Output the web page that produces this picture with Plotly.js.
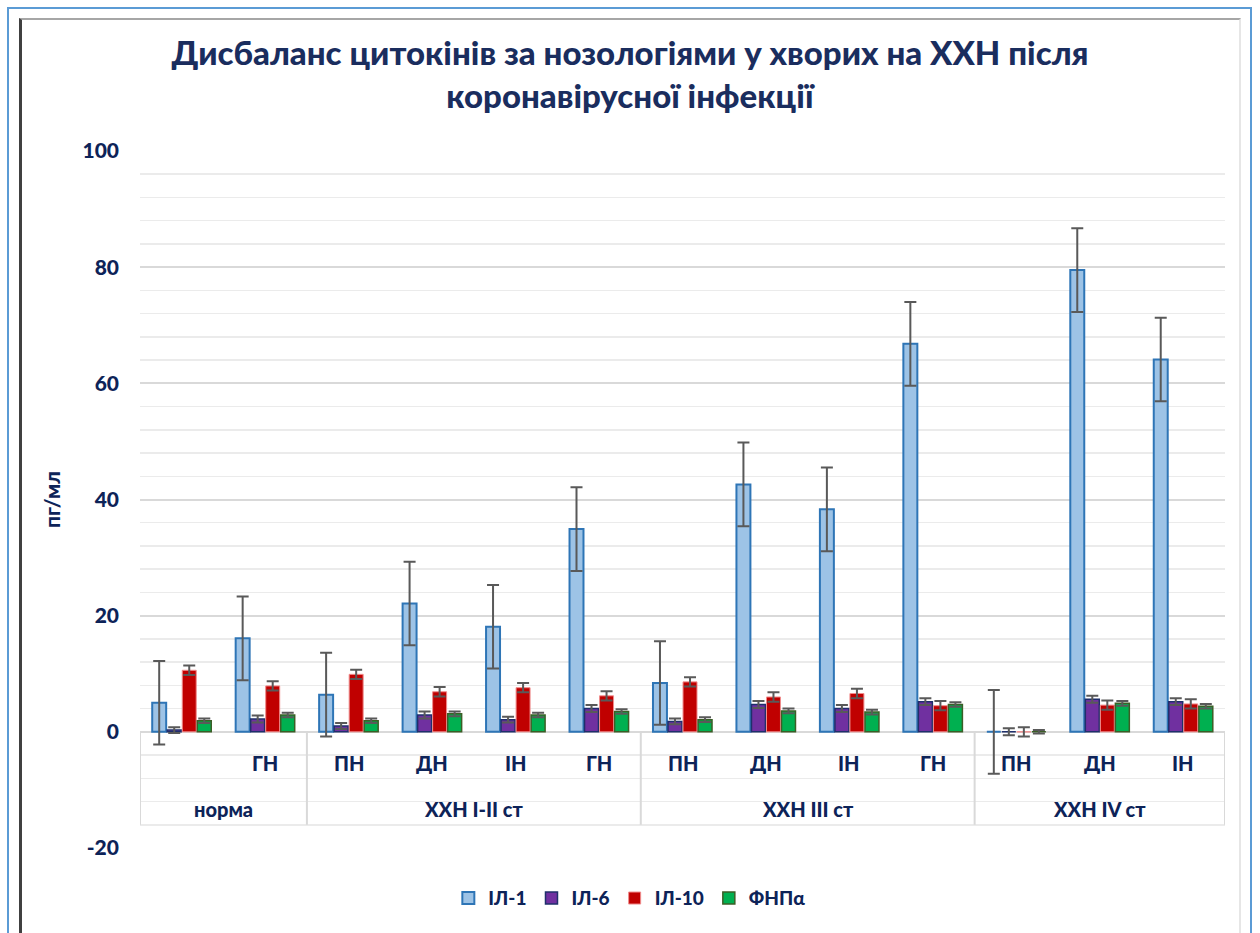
<!DOCTYPE html>
<html>
<head>
<meta charset="utf-8">
<script src="https://cdn.plot.ly/plotly-3.0.1.min.js"></script>
<style>
html,body{margin:0;padding:0;background:#fff;}
#wrap{position:relative;width:1260px;height:933px;overflow:hidden;}
#frameOuter{position:absolute;left:7px;top:7px;width:1245px;height:940px;border:2px solid #5b9bd5;box-sizing:border-box;}
#frameInner{position:absolute;left:19px;top:18px;width:1222px;height:930px;border-left:3px solid #404040;border-top:2px solid #a6a6a6;border-right:2px solid #e6e6e6;box-sizing:border-box;}
#chart{position:absolute;left:0;top:0;width:1260px;height:933px;}
</style>
</head>
<body>
<div id="wrap">
<div id="frameOuter"></div>
<div id="frameInner"></div>
<div id="chart"></div>
</div>
<script>
// ---- data ----
const groupOfCat = ['норма','норма','ХХН І-ІІ ст','ХХН І-ІІ ст','ХХН І-ІІ ст','ХХН І-ІІ ст','ХХН ІІІ ст','ХХН ІІІ ст','ХХН ІІІ ст','ХХН ІІІ ст','ХХН IV ст','ХХН IV ст','ХХН IV ст'];
const subLabels = ['', 'ГН', 'ПН', 'ДН', 'ІН', 'ГН', 'ПН', 'ДН', 'ІН', 'ГН', 'ПН', 'ДН', 'ІН'];
const groupNames = ['норма', 'ХХН І-ІІ ст', 'ХХН ІІІ ст', 'ХХН IV ст'];
const seriesNames = ['ІЛ-1', 'ІЛ-6', 'ІЛ-10', 'ФНПα'];
const yTickVals = [-20, 0, 20, 40, 60, 80, 100];
const yTickText = ['-20', '0', '20', '40', '60', '80', '100'];

const il1    = [5.0, 16.1, 6.4, 22.1, 18.1, 34.9, 8.4, 42.6, 38.3, 66.8, 0, 79.5, 64.1];
const il1Err = [7.2, 7.2, 7.2, 7.2, 7.2, 7.2, 7.2, 7.2, 7.2, 7.2, 7.2, 7.2, 7.2];
const il6    = [0.3, 2.2, 1.0, 2.9, 2.1, 4.0, 1.8, 4.7, 4.0, 5.2, 0, 5.6, 5.2];
const il6Err = [0.5, 0.6, 0.5, 0.6, 0.5, 0.6, 0.5, 0.6, 0.6, 0.6, 0.6, 0.6, 0.6];
const il10    = [10.6, 7.9, 9.9, 6.9, 7.6, 6.2, 8.6, 6.0, 6.6, 4.5, 0, 4.6, 4.8];
const il10Err = [0.8, 0.8, 0.8, 0.8, 0.8, 0.8, 0.8, 0.8, 0.8, 0.8, 0.8, 0.8, 0.8];
const tnf    = [1.9, 2.9, 1.9, 3.1, 2.9, 3.5, 2.1, 3.6, 3.4, 4.7, 0, 4.9, 4.4];
const tnfErr = [0.4, 0.4, 0.4, 0.4, 0.4, 0.4, 0.4, 0.4, 0.4, 0.4, 0.3, 0.4, 0.4];

// ---- build ----
const cats = groupOfCat.map((g, i) => g + ': ' + subLabels[i]);
const navy = '#0d2358';
const fontFam = 'Lato, "Open Sans", sans-serif';

const fills = ['#9dc3e6', '#7030a0', '#c00000', '#00b050'];
const borders = ['#2e75b6', '#1f2f6b', '#f08c8c', '#3b5e26'];
const bw = [2, 1.5, 1, 1.5];
const vals = [il1, il6, il10, tnf];
const errs = [il1Err, il6Err, il10Err, tnfErr];

const traces = vals.map((v, k) => ({
  type: 'bar',
  name: seriesNames[k],
  x: cats,
  y: v,
  marker: {color: fills[k], line: {color: borders[k], width: bw[k]}},
  error_y: {type: 'data', array: errs[k], visible: true, color: '#595959', thickness: 2, width: 6}
}));

const labFont = {family: fontFam, size: 20, color: navy, weight: 900};
const annotations = [];
subLabels.forEach((s, i) => {
  if (s) annotations.push({x: i, y: -5.3, xref: 'x', yref: 'y', text: s, showarrow: false, font: labFont});
});
groupNames.forEach(g => {
  const idx = groupOfCat.map((c, i) => c === g ? i : -1).filter(i => i >= 0);
  const c = (idx[0] + idx[idx.length - 1]) / 2;
  annotations.push({x: c, y: -13.3, xref: 'x', yref: 'y', text: g, showarrow: false, font: labFont});
});

const shapes = [];
const bounds = [-0.5];
groupNames.forEach(g => {
  const idx = groupOfCat.map((c, i) => c === g ? i : -1).filter(i => i >= 0);
  bounds.push(idx[idx.length - 1] + 0.5);
});
bounds.forEach(b => shapes.push({type: 'line', xref: 'x', yref: 'y', x0: b, x1: b, y0: 0, y1: -16,
  line: {color: '#d9d9d9', width: 2}, layer: 'above'}));

const layout = {
  width: 1260, height: 933,
  margin: {l: 140, r: 35, t: 151, b: 85},
  paper_bgcolor: 'rgba(0,0,0,0)',
  plot_bgcolor: 'rgba(0,0,0,0)',
  title: {
    text: 'Дисбаланс цитокінів за нозологіями у хворих на ХХН після<br>коронавірусної інфекції',
    font: {family: fontFam, size: 33, color: '#1a2d5e', weight: 900},
    x: 0.5, xanchor: 'center', xref: 'container', yref: 'container', y: 0.93, yanchor: 'middle'
  },
  barmode: 'group',
  bargap: 0.28,
  bargroupgap: 0.07,
  showlegend: true,
  legend: {orientation: 'h', x: 0.451, xanchor: 'center', y: -0.072, yanchor: 'middle',
    font: {family: fontFam, size: 19, color: navy, weight: 900}, itemwidth: 30, traceorder: 'normal'},
  xaxis: {type: 'category', showticklabels: false, showgrid: false, zeroline: false, showline: false,
    range: [-0.5, 12.5], fixedrange: true},
  yaxis: {
    range: [-20, 100], tickmode: 'array', tickvals: yTickVals, ticktext: yTickText,
    gridcolor: '#d9d9d9', gridwidth: 2,
    minor: {dtick: 4, tick0: 0, showgrid: true, gridcolor: '#ebebeb', gridwidth: 1.5},
    zeroline: true, zerolinecolor: '#d9d9d9', zerolinewidth: 2,
    showline: false,
    ticklabelstandoff: 20,
    tickfont: {family: fontFam, size: 21, color: navy, weight: 900},
    title: {text: 'пг/мл', font: {family: fontFam, size: 21, color: navy, weight: 900}, standoff: 16}
  },
  annotations: annotations,
  shapes: shapes
};

Plotly.newPlot('chart', traces, layout, {displayModeBar: false, staticPlot: true});
</script>
</body>
</html>
